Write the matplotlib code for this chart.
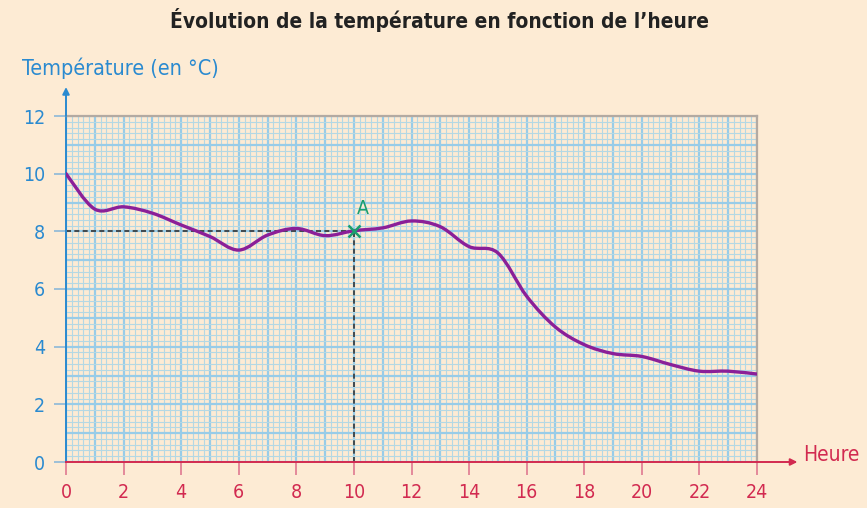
import numpy as np
import matplotlib.pyplot as plt
from matplotlib.path import Path
from matplotlib.patches import PathPatch

plt.rcParams['font.family'] = ['DejaVu Sans']
plt.rcParams['font.stretch'] = 'condensed'

# valeurs
heures = [0, 1, 2, 3, 4, 5, 6, 7, 8, 9, 10, 11, 12,
          13, 14, 15, 16, 17, 18, 19, 20, 21, 22, 23, 24]
temperatures = [10.0, 8.77, 8.85, 8.63, 8.22, 7.82, 7.35, 7.87, 8.1, 7.85, 8.02, 8.12, 8.36,
                8.16, 7.47, 7.25, 5.75, 4.68, 4.07, 3.76, 3.66, 3.38, 3.15, 3.15, 3.05]
point_a = (10, 8)
xticks = [0, 2, 4, 6, 8, 10, 12, 14, 16, 18, 20, 22, 24]
yticks = [0, 2, 4, 6, 8, 10, 12]

bg = '#fdebd4'
blue = '#2a8ad0'
red = '#d22a50'
purple = '#8b1f98'
green = '#1a9e6e'

fig = plt.figure(figsize=(8.67, 5.08), dpi=100, facecolor=bg)
ax = fig.add_axes([66 / 867, 46 / 508, 691 / 867, 346 / 508])
ax.set_facecolor(bg)
ax.set_xlim(0, 24)
ax.set_ylim(0, 12)

# papier millimétré
for v in np.arange(0, 24.01, 0.2):
    major = abs(v - round(v)) < 1e-6
    ax.axvline(v, color='#98cce8' if major else '#b4d8e4',
               lw=1.6 if major else 0.8, zorder=0)
for v in np.arange(0, 12.01, 0.2):
    major = abs(v - round(v)) < 1e-6
    ax.axhline(v, color='#98cce8' if major else '#b4d8e4',
               lw=1.6 if major else 0.8, zorder=0)

for s in ['top', 'right']:
    ax.spines[s].set_color('#b3aaa2')
    ax.spines[s].set_linewidth(1.6)
ax.spines['left'].set_color(blue)
ax.spines['left'].set_linewidth(1.4)
ax.spines['bottom'].set_color(red)
ax.spines['bottom'].set_linewidth(1.4)

ax.set_xticks(xticks)
ax.set_yticks(yticks)
ax.tick_params(axis='x', colors='#e07890', labelcolor=red, length=9, width=1.2,
               labelsize=14, pad=6)
ax.tick_params(axis='y', colors='#8cb8d8', labelcolor=blue, length=9, width=1.2,
               labelsize=14, pad=6)

# flèches des axes
ax.annotate('', xy=(0, 13.1), xytext=(0, 11.9), annotation_clip=False,
            arrowprops=dict(arrowstyle='-|>', color=blue, lw=1.4, mutation_scale=10))
ax.annotate('', xy=(25.5, 0), xytext=(23.9, 0), annotation_clip=False,
            arrowprops=dict(arrowstyle='-|>', color=red, lw=1.4, mutation_scale=10))

# courbe lissée (Catmull-Rom -> Bézier)
P = np.column_stack([heures, temperatures]).astype(float)
verts = [P[0]]
codes = [Path.MOVETO]
n = len(P)
for i in range(n - 1):
    p0 = P[i - 1] if i > 0 else P[i]
    p1, p2 = P[i], P[i + 1]
    p3 = P[i + 2] if i + 2 < n else P[i + 1]
    verts += [p1 + (p2 - p0) / 6, p2 - (p3 - p1) / 6, p2]
    codes += [Path.CURVE4] * 3
ax.add_patch(PathPatch(Path(verts, codes), facecolor='none', edgecolor=purple,
                       lw=2.4, zorder=3, capstyle='round'))

# point A
ax.plot([0, point_a[0]], [point_a[1], point_a[1]], ls=(0, (3, 2)), color='#333333', lw=1.2, zorder=2)
ax.plot([point_a[0], point_a[0]], [0, point_a[1]], ls=(0, (3, 2)), color='#333333', lw=1.2, zorder=2)
ax.plot(*point_a, marker='x', color=green, ms=8, mew=1.8, zorder=4)
ax.text(point_a[0] + 0.3, point_a[1] + 0.45, 'A', color=green, fontsize=14,
        ha='center', va='bottom')

ax.text(25.6, 0.25, 'Heure', color=red, fontsize=15, ha='left', va='center')
fig.text(22 / 867, 1 - 68 / 508, 'Température (en °C)', color=blue, fontsize=15.5,
         ha='left', va='center')
fig.text(440 / 867, 1 - 20 / 508, 'Évolution de la température en fonction de l’heure',
         color='#222222', fontsize=15, fontweight='bold', ha='center', va='center')

fig.savefig('out.png', dpi=100, facecolor=bg)
